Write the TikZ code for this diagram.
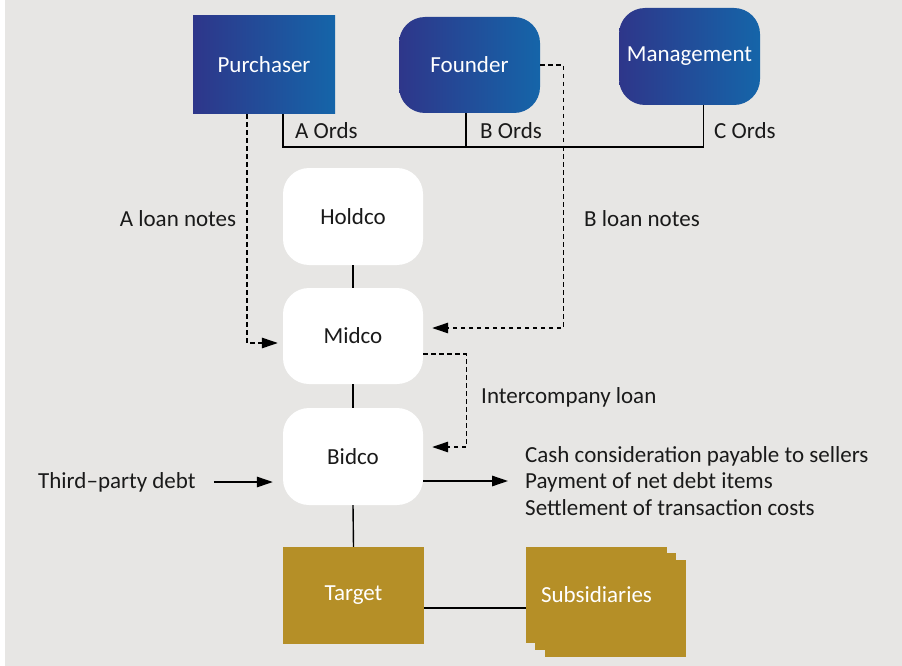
\documentclass[tikz,border=0pt]{standalone}
\usepackage{fontspec}
\setmainfont{Carlito}
\usetikzlibrary{arrows.meta}
\definecolor{bg}{HTML}{E7E6E4}
\definecolor{blueL}{HTML}{2E368A}
\definecolor{blueR}{HTML}{1565A9}
\definecolor{gold}{HTML}{B58F27}
\definecolor{ink}{HTML}{1A1A1A}
\begin{document}
\begin{tikzpicture}[x=1pt,y=-1pt,
  font=\fontsize{23}{26.5}\selectfont, text=ink,
  bluebox/.style={left color=blueL, right color=blueR, text=white, draw=none,
    minimum width=141pt, minimum height=97pt, inner sep=0pt},
  whitebox/.style={fill=white, rounded corners=26pt, text=ink,
    minimum width=140pt, minimum height=97pt, inner sep=0pt},
  goldbox/.style={fill=gold, text=white, minimum width=141pt, minimum height=97pt, inner sep=0pt},
  lbl/.style={inner sep=0pt, text=ink},
  link/.style={draw=black, line width=1.4pt},
  dsh/.style={draw=black, line width=1.4pt, dash pattern=on 4.5pt off 3.5pt,
    -{Triangle[length=16pt,width=10.5pt]}},
  arr/.style={draw=black, line width=1.4pt, -{Triangle[length=16pt,width=10.5pt]}}
]
\useasboundingbox (0,0) rectangle (902,666);
\fill[bg] (5,0) rectangle (902,666);

% top row
\node[bluebox, minimum width=142pt, minimum height=98pt] (P) at (264,65) {Purchaser};
\node[bluebox, rounded corners=26pt, minimum height=96pt] (F) at (469.5,65) {Founder};
\node[bluebox, rounded corners=26pt] (M) at (689.5,56.5) {Management};

% ordinary shares
\coordinate (oL) at (283,147);
\coordinate (oR) at (703.5,147);
\draw[link] (P.south -| oL) -- (oL) -- (oR) -- (M.south -| oR);
\draw[link] ([xshift=-3.5pt]F.south) -- ([xshift=-3.5pt]F.south |- oL);
\node[lbl, anchor=west] (AO) at (295,131) {A Ords};
\node[lbl, anchor=west] (BO) at (480,131) {B Ords};
\node[lbl, anchor=west] (CO) at (714,131) {C Ords};

% chain
\node[whitebox] (H) at (353,216.5) {Holdco};
\node[whitebox, minimum height=96pt] (Mi) at (353,336) {Midco};
\node[whitebox] (B) at (353,456.5) {Bidco};
\node[goldbox] (T) at (353.5,595.5) {Target};
\node[goldbox, minimum height=97pt] (S3) at (615.5,608.5) {};
\node[goldbox, minimum height=97pt] (S2) at (605.5,601.5) {};
\node[goldbox, minimum height=96pt] (S1) at (596.5,595) {Subsidiaries};

\draw[link] (H.south) -- (Mi.north);
\draw[link] (Mi.south) -- (B.north);
\draw[link] (B.south) -- (T.north);
\draw[link] ([yshift=-12.5pt]T.east) -- ([yshift=-12.5pt]T.east -| S1.west);

% loan notes
\draw[dsh] ([xshift=-17pt]P.south) |- ([xshift=-5pt,yshift=-7pt]Mi.west);
\node[lbl] (AL) at (178,219) {A loan notes};
\draw[dsh] (F.east) -- ++(23,0) |- ([xshift=9pt,yshift=8pt]Mi.east);
\node[lbl] (BL) at (642,219) {B loan notes};
\draw[dsh] ([yshift=-18pt]Mi.east) -- ++(43,0) |- ([xshift=9pt,yshift=9.5pt]B.east);
\node[lbl, anchor=west] (IC) at (481,397) {Intercompany loan};

% debt in, cash out
\node[lbl, anchor=west] (TPD) at (38,482) {Third–party debt};
\draw[arr] ([xshift=18pt]TPD.east) -- ([xshift=-10pt]B.west |- TPD.east);
\node[lbl, anchor=west, align=left] (OUT) at (525,481)
  {Cash consideration payable to sellers\\Payment of net debt items\\Settlement of transaction costs};
\draw[arr] (B.east |- OUT.west) -- ([xshift=-17pt]OUT.west);
\end{tikzpicture}
\end{document}
